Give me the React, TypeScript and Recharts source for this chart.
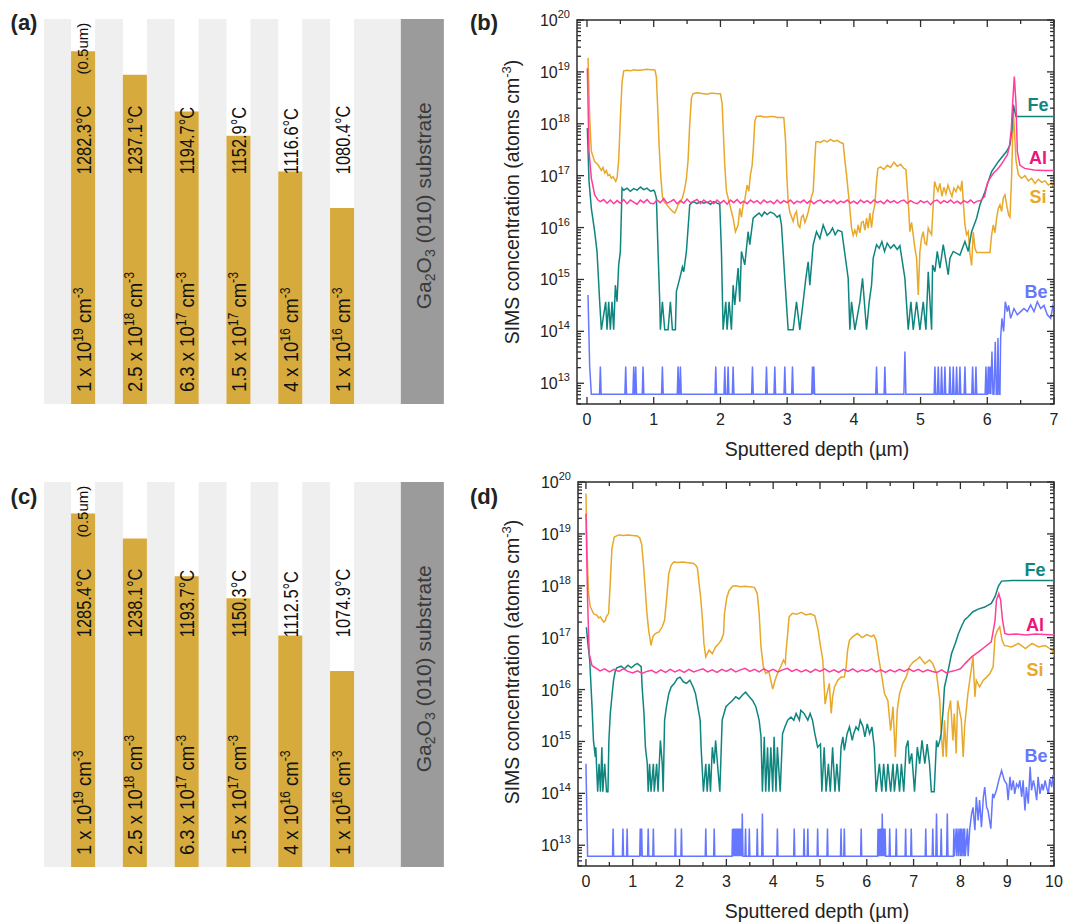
import React from "react";
import {
  BarChart,
  Bar,
  XAxis,
  YAxis,
  CartesianGrid,
  LineChart,
  Line,
  ReferenceArea,
} from "recharts";

const FONT = '"Liberation Sans", Arial, Helvetica, sans-serif';

// ---- layer schematics (a) and (c) ----
const layerSlots = [1, 2, 3, 4, 5, 6, 7.55];
const layerTopsA = [0.916, 0.855, 0.76, 0.697, 0.604, 0.509];
const layerTopsC = [0.918, 0.853, 0.755, 0.698, 0.601, 0.509];
const growthTempsA = ["1282.3°C", "1237.1°C", "1194.7°C", "1152.9°C", "1116.6°C", "1080.4°C"];
const growthTempsC = ["1285.4°C", "1238.1°C", "1193.7°C", "1150.3°C", "1112.5°C", "1074.9°C"];
const dopingMantissa = ["1", "2.5", "6.3", "1.5", "4", "1"];
const dopingExponent = [19, 18, 17, 17, 16, 16];
const thicknessNote = ["(0.5um)", null, null, null, null, null];

// ---- SIMS depth profiles: [depth (µm), log10 concentration (atoms cm^-3)] ----
const siB = [
  [0.015, 19.27], [0.04, 18.11], [0.065, 17.47], [0.115, 17.27], [0.165, 17.21], [0.215, 17.1], [0.24, 17.16], [0.265, 17.05],
  [0.29, 17.1], [0.315, 17.0], [0.34, 17.02], [0.365, 16.95], [0.39, 16.98], [0.43, 16.89], [0.45, 16.95], [0.475, 17.3],
  [0.5, 18.11], [0.525, 18.8], [0.55, 19.02], [0.6, 19.03], [0.65, 19.02], [0.7, 19.04], [0.75, 19.03], [0.8, 19.03],
  [0.85, 19.04], [0.9, 19.05], [0.95, 19.04], [1.0, 19.04], [1.02, 19.03], [1.04, 18.9], [1.06, 18.3], [1.08, 17.6],
  [1.105, 17.0], [1.13, 16.6], [1.155, 16.5], [1.19, 16.45], [1.24, 16.37], [1.29, 16.3], [1.315, 16.28], [1.34, 16.35],
  [1.365, 16.44], [1.4, 16.5], [1.43, 16.57], [1.465, 16.75], [1.49, 16.95], [1.515, 17.3], [1.54, 18.0], [1.565, 18.5],
  [1.59, 18.58], [1.65, 18.6], [1.7, 18.59], [1.75, 18.58], [1.8, 18.57], [1.85, 18.59], [1.9, 18.59], [1.95, 18.58],
  [2.0, 18.58], [2.025, 18.4], [2.045, 17.8], [2.065, 17.2], [2.09, 16.7], [2.14, 16.44], [2.19, 16.18], [2.225, 15.92],
  [2.265, 16.05], [2.29, 16.37], [2.315, 16.2], [2.34, 16.44], [2.365, 16.53], [2.4, 16.82], [2.425, 16.7], [2.45, 17.02],
  [2.475, 17.2], [2.495, 17.55], [2.515, 18.05], [2.54, 18.14], [2.6, 18.15], [2.65, 18.13], [2.7, 18.13], [2.75, 18.14],
  [2.8, 18.14], [2.85, 18.12], [2.9, 18.12], [2.95, 18.12], [2.975, 17.7], [2.995, 17.0], [3.015, 16.5], [3.04, 16.3],
  [3.09, 16.12], [3.115, 16.25], [3.14, 16.31], [3.165, 16.05], [3.19, 16.0], [3.215, 16.2], [3.24, 16.24], [3.265, 16.1],
  [3.29, 16.18], [3.315, 16.3], [3.34, 16.44], [3.365, 16.6], [3.39, 16.69], [3.41, 17.2], [3.43, 17.65], [3.45, 17.66],
  [3.5, 17.64], [3.55, 17.68], [3.6, 17.65], [3.65, 17.7], [3.7, 17.66], [3.75, 17.68], [3.8, 17.64], [3.84, 17.62],
  [3.865, 17.3], [3.89, 17.02], [3.93, 16.5], [3.965, 16.0], [3.99, 15.85], [4.015, 15.95], [4.04, 15.86], [4.065, 16.05],
  [4.09, 15.9], [4.115, 16.1], [4.14, 16.12], [4.165, 15.95], [4.19, 16.18], [4.215, 15.99], [4.24, 16.28], [4.265, 16.0],
  [4.29, 16.3], [4.315, 16.44], [4.34, 16.9], [4.36, 17.14], [4.4, 17.17], [4.45, 17.12], [4.5, 17.2], [4.55, 17.16],
  [4.6, 17.26], [4.65, 17.18], [4.7, 17.22], [4.75, 17.14], [4.78, 17.12], [4.815, 16.5], [4.84, 15.92], [4.865, 16.1],
  [4.89, 15.86], [4.915, 15.6], [4.94, 15.41], [4.965, 14.7], [4.99, 15.54], [5.015, 15.8], [5.04, 15.92], [5.065, 15.7],
  [5.09, 15.67], [5.115, 15.99], [5.14, 15.92], [5.165, 15.86], [5.19, 16.44], [5.21, 16.89], [5.23, 16.8], [5.26, 16.7],
  [5.29, 16.85], [5.32, 16.6], [5.35, 16.78], [5.38, 16.65], [5.41, 16.82], [5.44, 16.7], [5.47, 16.6], [5.5, 16.76],
  [5.53, 16.69], [5.56, 16.8], [5.6, 16.72], [5.62, 16.9], [5.64, 16.5], [5.665, 16.05], [5.69, 15.86], [5.715, 15.92],
  [5.74, 15.5], [5.765, 15.27], [5.79, 15.92], [5.815, 15.6], [5.84, 15.52], [6.04, 15.52], [6.065, 15.86], [6.09, 16.05],
  [6.115, 15.9], [6.14, 16.18], [6.165, 16.37], [6.19, 16.44], [6.215, 16.31], [6.24, 16.57], [6.265, 16.63], [6.29, 16.44],
  [6.32, 16.24], [6.34, 16.2], [6.365, 17.0], [6.39, 18.24], [6.41, 17.8], [6.43, 17.3], [6.465, 17.02], [6.515, 16.95],
  [6.565, 17.0], [6.615, 16.9], [6.665, 16.95], [6.715, 16.85], [6.765, 16.93], [6.815, 16.87], [6.865, 16.9], [6.915, 16.82],
  [6.965, 16.86], [7.0, 16.75],
];

const alB = [
  [0.005, 19.07], [0.03, 17.47], [0.065, 16.95], [0.115, 16.63], [0.165, 16.53], [0.2, 16.5], [0.25, 16.54], [0.3, 16.47],
  [0.35, 16.53], [0.4, 16.46], [0.45, 16.52], [0.5, 16.47], [0.55, 16.54], [0.6, 16.46], [0.65, 16.53], [0.7, 16.49],
  [0.75, 16.45], [0.8, 16.53], [0.85, 16.48], [0.9, 16.54], [0.95, 16.47], [1.0, 16.46], [1.05, 16.53], [1.1, 16.48],
  [1.15, 16.56], [1.2, 16.47], [1.25, 16.5], [1.3, 16.54], [1.35, 16.46], [1.4, 16.52], [1.45, 16.47], [1.5, 16.55],
  [1.55, 16.48], [1.6, 16.51], [1.65, 16.54], [1.7, 16.46], [1.75, 16.53], [1.8, 16.48], [1.85, 16.52], [1.9, 16.46],
  [1.95, 16.53], [2.0, 16.47], [2.05, 16.52], [2.1, 16.45], [2.15, 16.53], [2.2, 16.48], [2.25, 16.54], [2.3, 16.47],
  [2.35, 16.51], [2.4, 16.46], [2.45, 16.53], [2.5, 16.48], [2.55, 16.52], [2.6, 16.46], [2.65, 16.53], [2.7, 16.48],
  [2.75, 16.51], [2.8, 16.46], [2.85, 16.53], [2.9, 16.47], [2.95, 16.52], [3.0, 16.48], [3.05, 16.53], [3.1, 16.46],
  [3.15, 16.51], [3.2, 16.48], [3.25, 16.53], [3.3, 16.47], [3.35, 16.52], [3.4, 16.46], [3.45, 16.51], [3.5, 16.53],
  [3.55, 16.47], [3.6, 16.52], [3.65, 16.48], [3.7, 16.53], [3.75, 16.46], [3.8, 16.51], [3.85, 16.48], [3.9, 16.53],
  [3.95, 16.47], [4.0, 16.51], [4.05, 16.46], [4.1, 16.53], [4.15, 16.48], [4.2, 16.52], [4.25, 16.47], [4.3, 16.53],
  [4.35, 16.48], [4.4, 16.51], [4.45, 16.46], [4.5, 16.53], [4.55, 16.48], [4.6, 16.52], [4.65, 16.47], [4.7, 16.51],
  [4.75, 16.53], [4.8, 16.47], [4.85, 16.52], [4.9, 16.48], [4.95, 16.46], [5.0, 16.52], [5.05, 16.48], [5.1, 16.51],
  [5.15, 16.44], [5.2, 16.51], [5.25, 16.53], [5.3, 16.47], [5.35, 16.52], [5.4, 16.48], [5.45, 16.53], [5.5, 16.47],
  [5.55, 16.51], [5.6, 16.46], [5.65, 16.52], [5.7, 16.48], [5.75, 16.53], [5.8, 16.47], [5.85, 16.51], [5.9, 16.52],
  [5.96, 16.6], [6.0, 16.85], [6.05, 16.97], [6.1, 17.06], [6.15, 17.12], [6.2, 17.2], [6.25, 17.3], [6.3, 17.4],
  [6.33, 17.55], [6.36, 17.9], [6.38, 18.4], [6.405, 18.91], [6.43, 18.4], [6.45, 17.47], [6.49, 17.2], [6.56, 17.14],
  [6.7, 17.11], [6.85, 17.1], [7.0, 17.1],
];

const feB = [
  [0.005, 17.92], [0.03, 16.9], [0.065, 16.37], [0.115, 15.92], [0.15, 15.54], [0.19, 14.57], [0.215, 14.03], [0.28, 14.57],
  [0.3, 14.03], [0.325, 14.57], [0.35, 14.03], [0.375, 14.57], [0.4, 14.03], [0.425, 14.89], [0.45, 14.57], [0.475, 15.28],
  [0.5, 15.54], [0.525, 16.76], [0.55, 16.72], [0.6, 16.76], [0.65, 16.7], [0.7, 16.75], [0.75, 16.72], [0.8, 16.78],
  [0.85, 16.73], [0.9, 16.76], [0.95, 16.7], [1.0, 16.72], [1.015, 16.69], [1.04, 16.57], [1.065, 15.54], [1.09, 14.57],
  [1.1, 14.03], [1.13, 14.57], [1.165, 14.03], [1.215, 14.03], [1.25, 14.57], [1.28, 14.03], [1.325, 14.03], [1.34, 14.77],
  [1.39, 15.02], [1.43, 15.24], [1.45, 15.15], [1.49, 15.54], [1.54, 16.44], [1.565, 16.47], [1.6, 16.5], [1.65, 16.46],
  [1.7, 16.5], [1.75, 16.47], [1.8, 16.49], [1.85, 16.45], [1.9, 16.5], [1.95, 16.47], [1.99, 16.45], [2.015, 15.54],
  [2.04, 14.03], [2.08, 14.57], [2.1, 14.03], [2.13, 14.57], [2.165, 14.03], [2.19, 14.89], [2.215, 14.51], [2.265, 15.22],
  [2.29, 14.57], [2.315, 15.54], [2.365, 15.28], [2.415, 15.92], [2.44, 15.67], [2.49, 16.18], [2.54, 16.24], [2.58, 16.28],
  [2.62, 16.22], [2.66, 16.3], [2.7, 16.25], [2.75, 16.3], [2.8, 16.27], [2.85, 16.2], [2.89, 16.24], [2.915, 16.05],
  [2.965, 15.02], [3.015, 14.03], [3.09, 14.03], [3.14, 14.57], [3.19, 14.03], [3.24, 14.57], [3.28, 15.02], [3.315, 15.34],
  [3.34, 14.89], [3.39, 15.67], [3.44, 15.92], [3.49, 15.79], [3.54, 16.05], [3.6, 15.85], [3.64, 15.9], [3.68, 15.99],
  [3.72, 15.86], [3.76, 15.95], [3.82, 15.92], [3.915, 15.02], [3.94, 14.03], [3.965, 14.57], [4.015, 14.03], [4.09, 14.57],
  [4.13, 15.02], [4.19, 14.03], [4.23, 14.57], [4.265, 14.89], [4.29, 15.41], [4.34, 15.67], [4.38, 15.6], [4.42, 15.73],
  [4.46, 15.54], [4.5, 15.7], [4.55, 15.6], [4.6, 15.67], [4.65, 15.58], [4.69, 15.65], [4.765, 15.02], [4.815, 14.03],
  [4.855, 14.57], [4.89, 14.03], [4.94, 14.57], [4.99, 14.03], [5.04, 14.57], [5.08, 14.03], [5.115, 15.15], [5.165, 14.03],
  [5.18, 15.28], [5.215, 15.15], [5.25, 15.54], [5.29, 15.22], [5.34, 15.67], [5.415, 15.09], [5.44, 15.41], [5.49, 15.54],
  [5.59, 15.47], [5.665, 15.73], [5.715, 15.54], [5.765, 15.92], [5.84, 16.18], [5.89, 16.44], [5.965, 16.69], [6.015, 16.89],
  [6.065, 17.08], [6.165, 17.27], [6.29, 17.47], [6.34, 17.59], [6.37, 17.9], [6.39, 18.37], [6.43, 18.14], [6.5, 18.14],
  [6.7, 18.14], [6.9, 18.14], [7.0, 18.14],
];

const beB = [
  [0.015, 14.7], [0.04, 13.32], [0.065, 12.79],
  [0.188, 12.79], [0.2, 13.32], [0.212, 12.79], [0.568, 12.79], [0.58, 13.32], [0.592, 12.79],
  [0.688, 12.79], [0.7, 13.32], [0.712, 12.79], [0.718, 12.79], [0.73, 13.32], [0.742, 12.79],
  [0.828, 12.79], [0.84, 13.32], [0.852, 12.79], [1.118, 12.79], [1.13, 13.32], [1.142, 12.79],
  [1.353, 12.79], [1.365, 13.32], [1.377, 12.79], [1.388, 12.79], [1.4, 13.32], [1.412, 12.79],
  [1.918, 12.79], [1.93, 13.32], [1.942, 12.79], [2.053, 12.79], [2.065, 13.32], [2.077, 12.79],
  [2.103, 12.79], [2.115, 13.32], [2.127, 12.79], [2.178, 12.79], [2.19, 13.32], [2.202, 12.79],
  [2.468, 12.79], [2.48, 13.32], [2.492, 12.79], [2.678, 12.79], [2.69, 13.32], [2.702, 12.79],
  [2.803, 12.79], [2.815, 13.32], [2.827, 12.79], [2.953, 12.79], [2.965, 13.32], [2.977, 12.79],
  [3.068, 12.79], [3.08, 13.32], [3.092, 12.79], [3.368, 12.79], [3.38, 13.32], [3.39, 12.79], [3.4, 13.32], [3.412, 12.79],
  [4.328, 12.79], [4.34, 13.32], [4.352, 12.79], [4.453, 12.79], [4.465, 13.32], [4.477, 12.79],
  [4.75, 12.79], [4.765, 13.61], [4.78, 12.79], [5.203, 12.79], [5.215, 13.32], [5.227, 12.79],
  [5.253, 12.79], [5.265, 13.32], [5.277, 12.79], [5.303, 12.79], [5.315, 13.32], [5.327, 12.79],
  [5.353, 12.79], [5.365, 13.32], [5.377, 12.79], [5.428, 12.79], [5.44, 13.32], [5.452, 12.79],
  [5.478, 12.79], [5.49, 13.32], [5.502, 12.79], [5.528, 12.79], [5.54, 13.32], [5.552, 12.79],
  [5.578, 12.79], [5.59, 13.32], [5.602, 12.79], [5.653, 12.79], [5.665, 13.32], [5.677, 12.79],
  [5.768, 12.79], [5.78, 13.32], [5.792, 12.79], [5.818, 12.79], [5.83, 13.32], [5.842, 12.79],
  [5.968, 12.79], [5.98, 13.32], [5.992, 12.79], [6.003, 12.79], [6.015, 13.32], [6.027, 12.79], [6.04, 13.32], [6.052, 12.79],
  [6.07, 13.61], [6.085, 12.79], [6.1, 12.79], [6.12, 13.8], [6.135, 12.79], [6.15, 12.79], [6.16, 13.87], [6.175, 12.79],
  [6.19, 12.79], [6.2, 13.87], [6.22, 14.25], [6.245, 14.0], [6.27, 14.57], [6.3, 14.38], [6.32, 14.5], [6.35, 14.25],
  [6.4, 14.44], [6.45, 14.32], [6.5, 14.38], [6.55, 14.44], [6.6, 14.38], [6.65, 14.51], [6.7, 14.38], [6.75, 14.57],
  [6.8, 14.44], [6.85, 14.5], [6.9, 14.32], [6.95, 14.25], [7.0, 14.6],
];

const siD = [
  [0.0, 19.78], [0.02, 18.75], [0.055, 17.85], [0.09, 17.6], [0.165, 17.46], [0.235, 17.43], [0.27, 17.38], [0.31, 17.4],
  [0.34, 17.35], [0.38, 17.3], [0.415, 17.33], [0.435, 17.4], [0.485, 17.47], [0.52, 18.08], [0.555, 18.72], [0.605, 18.94],
  [0.7, 18.98], [0.8, 18.97], [0.9, 18.98], [1.0, 18.97], [1.1, 18.96], [1.15, 18.92], [1.19, 18.8], [1.23, 18.4],
  [1.27, 17.9], [1.3, 17.5], [1.34, 17.14], [1.39, 16.85], [1.43, 17.02], [1.48, 17.08], [1.56, 17.11], [1.63, 17.21],
  [1.68, 17.34], [1.72, 17.72], [1.77, 18.24], [1.82, 18.4], [1.88, 18.46], [1.95, 18.45], [2.05, 18.46], [2.15, 18.45],
  [2.3, 18.43], [2.34, 18.4], [2.38, 18.35], [2.41, 18.1], [2.45, 17.78], [2.49, 17.34], [2.52, 16.89], [2.56, 16.63],
  [2.63, 16.76], [2.7, 16.69], [2.77, 16.82], [2.84, 16.89], [2.89, 16.95], [2.94, 17.08], [2.96, 17.47], [3.01, 17.78],
  [3.06, 17.91], [3.13, 17.99], [3.2, 18.0], [3.3, 17.98], [3.4, 17.99], [3.6, 17.97], [3.66, 17.85], [3.7, 17.47],
  [3.74, 16.82], [3.79, 16.44], [3.84, 16.31], [3.91, 16.34], [3.99, 16.01], [4.04, 16.18], [4.09, 16.31], [4.16, 16.44],
  [4.22, 16.57], [4.26, 16.5], [4.27, 16.69], [4.31, 17.08], [4.34, 17.4], [4.41, 17.47], [4.5, 17.45], [4.6, 17.49],
  [4.7, 17.44], [4.8, 17.46], [4.89, 17.42], [4.96, 17.15], [5.0, 16.9], [5.06, 16.57], [5.11, 15.72], [5.15, 15.92],
  [5.2, 16.12], [5.24, 15.54], [5.27, 15.86], [5.31, 16.05], [5.38, 16.18], [5.45, 16.24], [5.52, 16.24], [5.56, 16.44],
  [5.59, 16.76], [5.63, 16.95], [5.7, 17.02], [5.8, 17.08], [5.9, 17.0], [6.0, 17.06], [6.1, 17.02], [6.15, 17.05],
  [6.2, 16.95], [6.24, 16.69], [6.31, 16.31], [6.38, 15.92], [6.45, 15.79], [6.51, 15.21], [6.56, 15.67], [6.61, 14.7],
  [6.65, 15.6], [6.7, 15.92], [6.77, 16.12], [6.84, 16.24], [6.91, 16.44], [6.99, 16.53], [7.06, 16.57], [7.13, 16.63],
  [7.24, 16.5], [7.34, 16.57], [7.41, 16.5], [7.49, 16.31], [7.56, 15.79], [7.59, 15.15], [7.63, 14.7], [7.66, 15.41],
  [7.7, 14.7], [7.74, 15.54], [7.79, 15.79], [7.84, 15.02], [7.87, 15.54], [7.91, 14.77], [7.94, 15.79], [8.02, 15.41],
  [8.06, 14.7], [8.09, 15.28], [8.16, 15.92], [8.24, 16.44], [8.27, 16.63], [8.31, 15.86], [8.34, 16.18], [8.41, 16.05],
  [8.49, 16.18], [8.56, 16.24], [8.63, 16.31], [8.7, 16.44], [8.74, 17.02], [8.79, 17.14], [8.84, 17.21], [8.89, 16.95],
  [8.94, 16.85], [9.09, 16.82], [9.24, 16.89], [9.39, 16.79], [9.53, 16.89], [9.67, 16.82], [9.81, 16.85], [9.96, 16.76],
  [10.0, 16.63],
];

const alD = [
  [0.0, 19.39], [0.035, 17.72], [0.07, 16.69], [0.13, 16.46], [0.24, 16.4], [0.3, 16.36], [0.4, 16.4], [0.5, 16.34],
  [0.6, 16.39], [0.7, 16.35], [0.8, 16.4], [0.9, 16.35], [1.0, 16.32], [1.1, 16.36], [1.2, 16.31], [1.3, 16.35],
  [1.4, 16.37], [1.5, 16.32], [1.6, 16.38], [1.7, 16.33], [1.8, 16.39], [1.9, 16.34], [2.0, 16.38], [2.1, 16.33],
  [2.2, 16.39], [2.3, 16.34], [2.4, 16.37], [2.5, 16.4], [2.6, 16.34], [2.7, 16.38], [2.8, 16.33], [2.9, 16.39],
  [3.0, 16.35], [3.1, 16.4], [3.2, 16.34], [3.3, 16.38], [3.4, 16.41], [3.5, 16.35], [3.6, 16.39], [3.7, 16.34],
  [3.8, 16.4], [3.9, 16.35], [4.0, 16.39], [4.1, 16.34], [4.2, 16.38], [4.3, 16.41], [4.4, 16.35], [4.5, 16.39],
  [4.6, 16.34], [4.7, 16.38], [4.8, 16.33], [4.9, 16.39], [5.0, 16.35], [5.1, 16.4], [5.2, 16.34], [5.3, 16.38],
  [5.4, 16.33], [5.5, 16.39], [5.6, 16.35], [5.7, 16.4], [5.8, 16.34], [5.9, 16.38], [6.0, 16.35], [6.1, 16.4],
  [6.2, 16.34], [6.3, 16.38], [6.4, 16.33], [6.5, 16.38], [6.6, 16.34], [6.7, 16.39], [6.8, 16.35], [6.9, 16.4],
  [7.0, 16.35], [7.1, 16.39], [7.2, 16.34], [7.3, 16.38], [7.4, 16.35], [7.5, 16.33], [7.6, 16.38], [7.7, 16.32],
  [7.8, 16.35], [7.9, 16.37], [8.0, 16.4], [8.1, 16.5], [8.24, 16.63], [8.38, 16.72], [8.52, 16.82], [8.66, 16.92],
  [8.74, 17.33], [8.77, 17.72], [8.82, 17.85], [8.86, 17.72], [8.9, 17.34], [8.95, 17.08], [9.02, 17.06], [9.2, 17.07],
  [9.4, 17.05], [9.6, 17.07], [9.8, 17.06], [10.0, 17.05],
];

const feD = [
  [0.01, 17.2], [0.04, 16.9], [0.08, 16.57], [0.13, 15.67], [0.16, 15.02], [0.2, 14.7], [0.21, 14.89], [0.25, 14.03],
  [0.28, 14.57], [0.31, 14.03], [0.34, 14.89], [0.36, 14.03], [0.4, 14.57], [0.44, 14.03], [0.47, 14.03], [0.49, 15.02],
  [0.52, 15.54], [0.56, 15.92], [0.59, 16.18], [0.63, 16.37], [0.66, 16.42], [0.75, 16.45], [0.82, 16.4], [0.9, 16.47],
  [0.97, 16.42], [1.05, 16.48], [1.1, 16.5], [1.18, 16.44], [1.2, 16.05], [1.24, 15.54], [1.27, 14.89], [1.31, 14.57],
  [1.33, 14.03], [1.36, 14.57], [1.39, 14.03], [1.44, 14.57], [1.46, 14.03], [1.51, 14.57], [1.54, 14.03], [1.59, 15.02],
  [1.63, 14.57], [1.65, 14.03], [1.68, 15.41], [1.72, 15.67], [1.77, 15.92], [1.82, 16.05], [1.89, 16.12], [1.95, 16.21],
  [2.01, 16.24], [2.08, 16.15], [2.15, 16.12], [2.22, 16.18], [2.29, 16.05], [2.34, 15.92], [2.39, 15.67], [2.44, 15.41],
  [2.46, 14.89], [2.51, 14.03], [2.56, 14.57], [2.59, 14.03], [2.63, 14.57], [2.66, 14.03], [2.7, 14.89], [2.74, 14.57],
  [2.77, 15.02], [2.81, 14.57], [2.86, 14.03], [2.91, 15.41], [2.95, 15.54], [2.99, 15.67], [3.06, 15.73], [3.13, 15.79],
  [3.2, 15.86], [3.27, 15.82], [3.34, 15.89], [3.41, 15.95], [3.49, 15.86], [3.56, 15.79], [3.63, 15.67], [3.7, 15.41],
  [3.74, 15.09], [3.77, 14.03], [3.81, 15.09], [3.84, 14.03], [3.88, 14.89], [3.91, 14.03], [3.95, 14.89], [3.99, 14.03],
  [4.02, 15.09], [4.06, 14.03], [4.09, 14.89], [4.15, 14.03], [4.2, 15.15], [4.25, 15.28], [4.31, 15.41], [4.38, 15.47],
  [4.44, 15.41], [4.49, 15.54], [4.56, 15.41], [4.59, 15.6], [4.66, 15.54], [4.74, 15.41], [4.79, 15.54], [4.84, 15.41],
  [4.89, 15.15], [4.95, 14.89], [5.01, 14.95], [5.04, 14.03], [5.09, 14.89], [5.13, 14.03], [5.18, 14.57], [5.22, 14.03],
  [5.27, 14.89], [5.32, 14.03], [5.36, 14.57], [5.41, 14.03], [5.45, 14.89], [5.49, 15.09], [5.52, 14.83], [5.58, 15.15],
  [5.63, 15.28], [5.69, 15.02], [5.72, 15.15], [5.77, 15.28], [5.82, 15.22], [5.86, 15.41], [5.92, 15.28], [5.96, 15.09],
  [6.01, 15.34], [6.06, 15.15], [6.11, 15.28], [6.16, 14.89], [6.2, 14.03], [6.27, 14.57], [6.32, 14.03], [6.36, 14.57],
  [6.41, 14.03], [6.45, 14.57], [6.51, 14.03], [6.56, 14.57], [6.59, 14.03], [6.65, 14.57], [6.7, 14.03], [6.74, 14.57],
  [6.79, 14.03], [6.84, 14.89], [6.88, 15.02], [6.91, 14.57], [6.96, 14.77], [7.02, 14.03], [7.08, 14.89], [7.13, 14.57],
  [7.18, 15.02], [7.24, 14.57], [7.29, 14.95], [7.34, 14.57], [7.38, 14.03], [7.44, 14.03], [7.49, 15.02], [7.52, 14.89],
  [7.56, 15.02], [7.59, 15.15], [7.63, 15.6], [7.66, 16.05], [7.74, 16.37], [7.81, 16.69], [7.89, 16.89], [7.96, 17.08],
  [8.02, 17.21], [8.09, 17.34], [8.16, 17.4], [8.27, 17.5], [8.38, 17.55], [8.52, 17.59], [8.66, 17.66], [8.74, 17.79],
  [8.81, 17.99], [8.88, 18.09], [9.1, 18.1], [9.5, 18.1], [10.0, 18.1],
];

const beD = [
  [0.0, 14.57], [0.035, 12.79],
  [0.568, 12.79], [0.58, 13.32], [0.592, 12.79], [0.778, 12.79], [0.79, 13.32], [0.802, 12.79],
  [0.868, 12.79], [0.88, 13.32], [0.892, 12.79], [1.148, 12.79], [1.16, 13.32], [1.175, 12.79], [1.19, 13.32], [1.202, 12.79],
  [1.318, 12.79], [1.33, 13.32], [1.342, 12.79], [1.428, 12.79], [1.44, 13.32], [1.452, 12.79],
  [1.898, 12.79], [1.91, 13.32], [1.922, 12.79], [2.028, 12.79], [2.04, 13.32], [2.052, 12.79],
  [2.548, 12.79], [2.56, 13.32], [2.572, 12.79], [2.728, 12.79], [2.74, 13.32], [2.752, 12.79],
  [3.12, 12.79], [3.13, 13.32], [3.145, 12.79], [3.16, 13.32], [3.175, 12.79], [3.19, 13.32], [3.205, 12.79], [3.22, 13.32],
  [3.235, 12.79], [3.25, 13.32], [3.265, 12.79], [3.28, 13.32], [3.295, 12.79], [3.31, 13.32], [3.325, 12.79], [3.34, 13.61],
  [3.355, 12.79], [3.398, 12.79], [3.41, 13.32], [3.422, 12.79], [3.478, 12.79], [3.49, 13.32], [3.502, 12.79],
  [3.648, 12.79], [3.66, 13.32], [3.672, 12.79], [3.755, 12.79], [3.77, 13.61], [3.785, 12.79],
  [4.078, 12.79], [4.09, 13.32], [4.102, 12.79], [4.438, 12.79], [4.45, 13.32], [4.462, 12.79],
  [4.648, 12.79], [4.66, 13.32], [4.672, 12.79], [4.728, 12.79], [4.74, 13.32], [4.752, 12.79],
  [4.938, 12.79], [4.95, 13.32], [4.962, 12.79], [5.148, 12.79], [5.16, 13.32], [5.172, 12.79],
  [5.438, 12.79], [5.45, 13.32], [5.462, 12.79], [5.508, 12.79], [5.52, 13.32], [5.532, 12.79],
  [5.868, 12.79], [5.88, 13.32], [5.892, 12.79],
  [6.23, 12.79], [6.24, 13.32], [6.25, 12.79], [6.26, 13.32], [6.27, 12.79], [6.28, 13.32], [6.295, 12.79], [6.31, 13.32],
  [6.32, 12.79], [6.33, 13.61], [6.345, 12.79], [6.36, 13.32], [6.375, 12.79], [6.39, 13.32], [6.405, 12.79],
  [6.478, 12.79], [6.49, 13.32], [6.502, 12.79], [6.618, 12.79], [6.63, 13.32], [6.642, 12.79],
  [6.818, 12.79], [6.83, 13.32], [6.842, 12.79], [6.938, 12.79], [6.95, 13.32], [6.962, 12.79],
  [7.248, 12.79], [7.26, 13.32], [7.272, 12.79], [7.398, 12.79], [7.41, 13.32], [7.422, 12.79],
  [7.475, 12.79], [7.49, 13.61], [7.505, 12.79], [7.578, 12.79], [7.59, 13.32], [7.602, 12.79],
  [7.705, 12.79], [7.72, 13.61], [7.735, 12.79],
  [7.85, 12.79], [7.86, 13.32], [7.875, 12.79], [7.91, 13.32], [7.925, 12.79], [7.95, 13.32], [7.965, 12.79], [7.99, 13.32],
  [8.005, 12.79], [8.02, 13.32], [8.035, 12.79], [8.06, 13.32], [8.075, 12.79], [8.09, 13.32], [8.105, 12.79], [8.15, 13.32],
  [8.165, 12.79], [8.2, 13.32],
  [8.24, 13.61], [8.27, 13.73], [8.31, 13.29], [8.34, 13.93], [8.38, 13.48], [8.41, 13.87], [8.45, 13.35], [8.49, 13.93],
  [8.52, 14.12], [8.56, 13.73], [8.59, 13.67], [8.65, 13.32], [8.69, 13.99], [8.72, 13.93], [8.77, 14.06], [8.82, 14.25],
  [8.88, 14.44], [8.94, 14.25], [8.99, 14.18], [9.02, 13.87], [9.06, 14.32], [9.09, 14.06], [9.13, 14.25], [9.16, 13.99],
  [9.2, 14.18], [9.24, 14.12], [9.27, 14.25], [9.31, 13.93], [9.34, 14.25], [9.38, 13.67], [9.41, 14.12], [9.45, 13.8],
  [9.49, 14.51], [9.52, 14.06], [9.56, 14.25], [9.59, 14.12], [9.63, 13.87], [9.66, 14.32], [9.7, 13.99], [9.74, 14.18],
  [9.77, 14.06], [9.81, 14.25], [9.84, 14.12], [9.88, 13.99], [9.91, 14.28], [9.95, 14.12], [9.98, 14.35], [10.0, 14.25],
];

const xTicksB = [0, 0.5, 1, 1.5, 2, 2.5, 3, 3.5, 4, 4.5, 5, 5.5, 6, 6.5, 7];
const xTicksD = [0, 0.5, 1, 1.5, 2, 2.5, 3, 3.5, 4, 4.5, 5, 5.5, 6, 6.5, 7, 7.5, 8, 8.5, 9, 9.5, 10];
const decadeTicks = [1e12, 1e13, 1e14, 1e15, 1e16, 1e17, 1e18, 1e19, 1e20];
const minorSteps = [2, 3, 4, 5, 6, 7, 8, 9];
const Y_MIN = Math.pow(10, 12.6);
const Y_MAX = 1e20;
const yTicks = decadeTicks
  .flatMap((d) => [d, ...minorSteps.map((m) => m * d)])
  .filter((v) => v >= Y_MIN && v <= Y_MAX);

const COLORS = {
  fe: "#0f857f",
  al: "#ff3d9a",
  alText: "#f0147c",
  si: "#e8a82a",
  be: "#6677ff",
  gold: "#d6aa3c",
  frame: "#2e2e2e",
};

function toPoints(pairs: number[][]) {
  return pairs.map(([d, lg]) => ({ d, c: Math.pow(10, lg) }));
}

function layerRows(tops: number[], temps: string[]) {
  return layerSlots.map((slot, i) => ({
    slot,
    column: 1,
    film: i < tops.length ? tops[i] : 0,
    text: 1,
    temp: temps[i] ?? null,
    mant: dopingMantissa[i] ?? null,
    exp: dopingExponent[i] ?? null,
    note: thicknessNote[i] ?? null,
    substrate: i === tops.length,
  }));
}

function ColumnShape(p: any) {
  const { x, y, width, height, payload } = p;
  if (payload.substrate) {
    const cx = x + width / 2;
    return <rect x={cx - 21.5} y={y} width={43} height={height} fill="#9b9b9b" />;
  }
  return <rect x={x} y={y} width={width} height={height} fill="#ffffff" />;
}

function LayerText(p: any) {
  const { x, y, width, height, payload } = p;
  const cx = x + width / 2;
  const bottom = y + height;
  if (payload.substrate) {
    const bx = cx + 8.5;
    const by = y + height * 0.485;
    return (
      <text
        transform={`rotate(-90 ${bx} ${by})`}
        x={bx}
        y={by}
        textAnchor="middle"
        fontSize={21}
        fill="#3a3a3a"
        fontFamily={FONT}
      >
        Ga<tspan fontSize={14} dy={4}>2</tspan>
        <tspan dy={-4}>O</tspan>
        <tspan fontSize={14} dy={4}>3</tspan>
        <tspan dy={-4}> (010) substrate</tspan>
      </text>
    );
  }
  const bx = cx + 7.5;
  const tempY = bottom - height * 0.597;
  const concY = bottom - height * 0.031;
  const noteY = y + height * 0.144;
  return (
    <g fill="#111" fontFamily={FONT}>
      <text transform={`translate(${bx} ${tempY}) rotate(-90) scale(0.78 1)`} fontSize={21}>
        {payload.temp}
      </text>
      <text transform={`translate(${bx} ${concY}) rotate(-90) scale(0.88 1)`} fontSize={21}>
        {payload.mant} x 10
        <tspan fontSize={14} dy={-8}>{payload.exp}</tspan>
        <tspan dy={8}> cm</tspan>
        <tspan fontSize={14} dy={-8}>-3</tspan>
      </text>
      {payload.note && (
        <text transform={`translate(${cx + 5} ${noteY}) rotate(-90)`} fontSize={15}>
          {payload.note}
        </text>
      )}
    </g>
  );
}

function LayerPanel({ tops, temps, top, margin }: any) {
  const data = layerRows(tops, temps);
  return (
    <div style={{ position: "absolute", left: 0, top, width: 470, height: 430 }}>
      <BarChart width={470} height={430} data={data} margin={margin} barGap={-24}>
        <CartesianGrid horizontal={false} vertical={false} fill="#efefef" stroke="none" />
        <XAxis type="number" dataKey="slot" domain={[0.247, 7.97]} hide allowDataOverflow />
        <YAxis type="number" domain={[0, 1]} hide />
        <Bar dataKey="column" barSize={24} isAnimationActive={false} shape={ColumnShape} />
        <Bar dataKey="film" barSize={24} fill={COLORS.gold} isAnimationActive={false} />
        <Bar dataKey="text" barSize={24} isAnimationActive={false} shape={LayerText} />
      </BarChart>
    </div>
  );
}

function XTick(p: any) {
  const { x, y, payload, plotH } = p;
  const major = Number.isInteger(payload.value);
  const len = major ? 7 : 4;
  return (
    <g>
      <line x1={x} x2={x} y1={y} y2={y - len} stroke={COLORS.frame} strokeWidth={1.3} />
      <line x1={x} x2={x} y1={y - plotH} y2={y - plotH + len} stroke={COLORS.frame} strokeWidth={1.3} />
      {major && (
        <text x={x} y={y + 21} textAnchor="middle" fontSize={16} fill="#222" fontFamily={FONT}>
          {payload.value}
        </text>
      )}
    </g>
  );
}

function YTick(p: any) {
  const { x, y, payload, plotW } = p;
  const lg = Math.log10(payload.value);
  const major = Math.abs(lg - Math.round(lg)) < 1e-6;
  const len = major ? 7 : 4;
  return (
    <g>
      <line x1={x} x2={x + len} y1={y} y2={y} stroke={COLORS.frame} strokeWidth={1.3} />
      <line x1={x + plotW} x2={x + plotW - len} y1={y} y2={y} stroke={COLORS.frame} strokeWidth={1.3} />
      {major && (
        <text x={x - 7} y={y + 6} textAnchor="end" fontSize={16} fill="#222" fontFamily={FONT}>
          10
          <tspan dy={-8} fontSize={11}>
            {Math.round(lg)}
          </tspan>
        </text>
      )}
    </g>
  );
}

function SimsPanel({ top, xMin, xMax, xTicks, yAxisWidth, fe, al, si, be }: any) {
  const plotW = 585 - yAxisWidth - 11;
  const plotH = 384;
  return (
    <div style={{ position: "absolute", left: 480, top, width: 585, height: 460 }}>
      <LineChart width={585} height={460} margin={{ top: 20, right: 11, bottom: 26, left: 0 }}>
        <XAxis
          type="number"
          dataKey="d"
          domain={[xMin, xMax]}
          ticks={xTicks}
          interval={0}
          allowDataOverflow
          axisLine={false}
          tickLine={false}
          tickSize={0}
          tickMargin={0}
          height={30}
          tick={<XTick plotH={plotH} />}
        />
        <YAxis
          type="number"
          scale="log"
          domain={[Y_MIN, Y_MAX]}
          ticks={yTicks}
          interval={0}
          allowDataOverflow
          axisLine={false}
          tickLine={false}
          tickSize={0}
          tickMargin={0}
          width={yAxisWidth}
          tick={<YTick plotW={plotW} />}
        />
        <Line data={toPoints(be)} dataKey="c" stroke={COLORS.be} strokeWidth={1.5} dot={false} isAnimationActive={false} />
        <Line data={toPoints(si)} dataKey="c" stroke={COLORS.si} strokeWidth={1.5} dot={false} isAnimationActive={false} />
        <Line data={toPoints(fe)} dataKey="c" stroke={COLORS.fe} strokeWidth={1.5} dot={false} isAnimationActive={false} />
        <Line data={toPoints(al)} dataKey="c" stroke={COLORS.al} strokeWidth={1.5} dot={false} isAnimationActive={false} />
        <ReferenceArea x1={xMin} x2={xMax} y1={Y_MIN} y2={Y_MAX} fill="none" stroke={COLORS.frame} strokeWidth={1.5} />
      </LineChart>
    </div>
  );
}

const textAt = (left: number, top: number, extra: React.CSSProperties = {}): React.CSSProperties => ({
  position: "absolute",
  left,
  top,
  transform: "translate(-50%, -50%)",
  whiteSpace: "nowrap",
  fontFamily: FONT,
  lineHeight: 1,
  ...extra,
});

const panelLabel: React.CSSProperties = { fontSize: 22, fontWeight: "bold", color: "#222" };
const seriesLabel: React.CSSProperties = { fontSize: 18, fontWeight: "bold" };
const axisTitle: React.CSSProperties = { fontSize: 19.5, color: "#222" };

export default function App() {
  return (
    <div style={{ position: "absolute", left: 0, top: 0, width: 1065, height: 923, background: "#fff", fontFamily: FONT }}>
      <LayerPanel tops={layerTopsA} temps={growthTempsA} top={0} margin={{ top: 19, right: 26, bottom: 26, left: 44 }} />
      <LayerPanel tops={layerTopsC} temps={growthTempsC} top={460} margin={{ top: 22, right: 26, bottom: 23, left: 44 }} />

      <SimsPanel top={0} xMin={-0.15} xMax={7} xTicks={xTicksB} yAxisWidth={97} fe={feB} al={alB} si={siB} be={beB} />
      <SimsPanel top={462} xMin={-0.17} xMax={10} xTicks={xTicksD} yAxisWidth={98} fe={feD} al={alD} si={siD} be={beD} />

      <div style={textAt(24, 23, panelLabel)}>(a)</div>
      <div style={textAt(484, 23, panelLabel)}>(b)</div>
      <div style={textAt(24, 497, panelLabel)}>(c)</div>
      <div style={textAt(484, 497, panelLabel)}>(d)</div>

      <div style={textAt(511, 202, { ...axisTitle, transform: "translate(-50%, -50%) rotate(-90deg)" })}>
        SIMS concentration (atoms cm<sup style={{ fontSize: 13 }}>-3</sup>)
      </div>
      <div style={textAt(817, 450, axisTitle)}>Sputtered depth (µm)</div>
      <div style={textAt(511, 662, { ...axisTitle, transform: "translate(-50%, -50%) rotate(-90deg)" })}>
        SIMS concentration (atoms cm<sup style={{ fontSize: 13 }}>-3</sup>)
      </div>
      <div style={textAt(817, 912, axisTitle)}>Sputtered depth (µm)</div>

      <div style={textAt(1038, 105, { ...seriesLabel, color: COLORS.fe })}>Fe</div>
      <div style={textAt(1038, 158, { ...seriesLabel, color: COLORS.alText })}>Al</div>
      <div style={textAt(1038, 197, { ...seriesLabel, color: COLORS.si })}>Si</div>
      <div style={textAt(1036, 292, { ...seriesLabel, color: COLORS.be })}>Be</div>

      <div style={textAt(1035, 570, { ...seriesLabel, color: COLORS.fe })}>Fe</div>
      <div style={textAt(1035, 625, { ...seriesLabel, color: COLORS.alText })}>Al</div>
      <div style={textAt(1035, 670, { ...seriesLabel, color: COLORS.si })}>Si</div>
      <div style={textAt(1036, 756, { ...seriesLabel, color: COLORS.be })}>Be</div>
    </div>
  );
}
